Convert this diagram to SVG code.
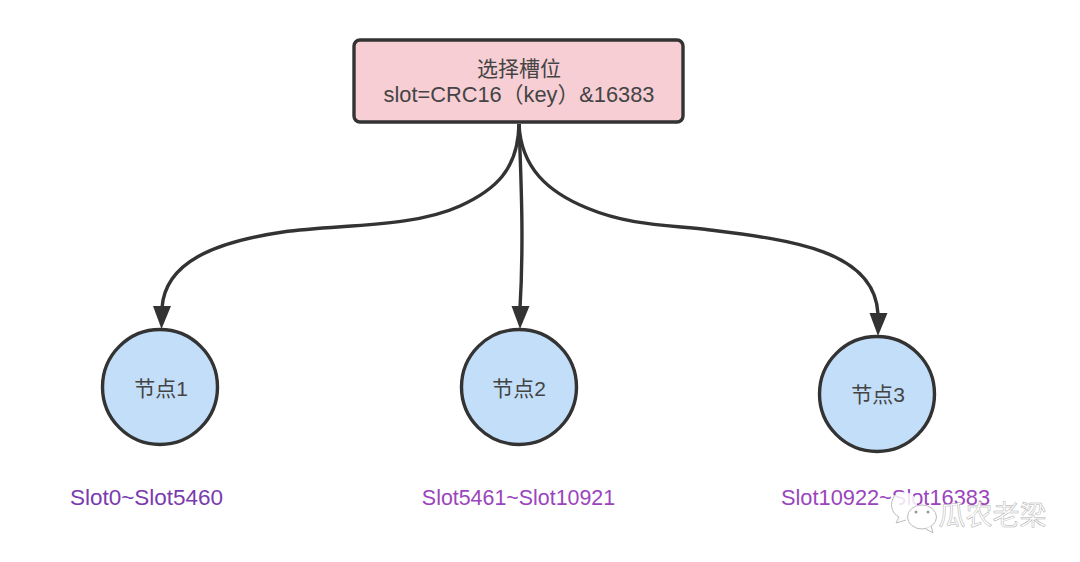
<svg xmlns="http://www.w3.org/2000/svg" width="1080" height="562" viewBox="0 0 1080 562">
<style>
.t{font-family:"Liberation Sans","Noto Sans CJK SC",Arial,sans-serif;fill:#444;text-anchor:middle}
.n{fill:#c3def8;stroke:#333;stroke-width:3.4}
.s{font-family:"Liberation Sans","Noto Sans CJK SC",sans-serif;text-anchor:middle}
.c{fill:none;stroke:#333;stroke-width:3.4}
.h{fill:#333}
.w{fill:#fff;stroke:#bbb;stroke-width:1}
</style>
<rect width="1080" height="562" fill="#fff"/>
<g id="connectors">
<path class="c" d="M519 124C518 170 495 190 460 206C412 228 340 224 283 232C215 242 165 262 162 308"/>
<path class="c" d="M519 124C521 180 524 240 520 308"/>
<path class="c" d="M519 124C521 168 548 192 587 208C630 226 670 225 710 230C790 240 875 250 878 314"/>
<path class="h" d="M153 306L171 306L161.500 329Z"/>
<path class="h" d="M511.500 306L529.500 306L520 329Z"/>
<path class="h" d="M869.500 313L887.500 313L878 336Z"/>
</g>
<g id="node-slot">
<rect x="354" y="40" width="329" height="82" rx="6" fill="#f7ced4" stroke="#333" stroke-width="3.4"/>
<text class="t" x="519" y="76" font-size="21">选择槽位</text>
<text class="t" x="519" y="102" font-size="21.800">slot=CRC16（key）&amp;16383</text>
</g>
<g id="node-1"><circle class="n" cx="160" cy="387" r="57.500"/><text class="t" x="161" y="396" font-size="21">节点1</text></g>
<g id="node-2"><circle class="n" cx="519" cy="387" r="57.500"/><text class="t" x="519" y="396" font-size="21">节点2</text></g>
<g id="node-3"><circle class="n" cx="877" cy="394" r="57.500"/><text class="t" x="878" y="402" font-size="21">节点3</text></g>
<g id="labels">
<text class="s" x="146.500" y="505" font-size="22.500" fill="#7a3bb0">Slot0~Slot5460</text>
<text class="s" x="518.500" y="505" font-size="21.400" fill="#9a45bd">Slot5461~Slot10921</text>
<text class="s" x="885.500" y="505" font-size="21.800" fill="#9a45bd">Slot10922~Slot16383</text>
</g>
<g id="watermark">
<ellipse cx="904" cy="504" rx="13" ry="12" fill="#fff" fill-opacity=".85"/>
<path d="M895 495C889 503 891 513 899 517L896 523L906 520" fill="#fff" stroke="#bbb" stroke-width="1"/>
<ellipse class="w" cx="922" cy="517" rx="14.500" ry="12"/>
<path d="M926 529L933 533L931 526" fill="#fff" stroke="#bbb" stroke-width="1"/>
<circle cx="916" cy="512" r="1.500" fill="#999"/><circle cx="928" cy="512" r="1.500" fill="#999"/>
<text x="992.500" y="525" font-family="'Noto Sans CJK SC',sans-serif" font-size="27" text-anchor="middle" fill="#fff" stroke="#b0b0b0" stroke-width="0.500">瓜农老梁</text>
</g>
</svg>
